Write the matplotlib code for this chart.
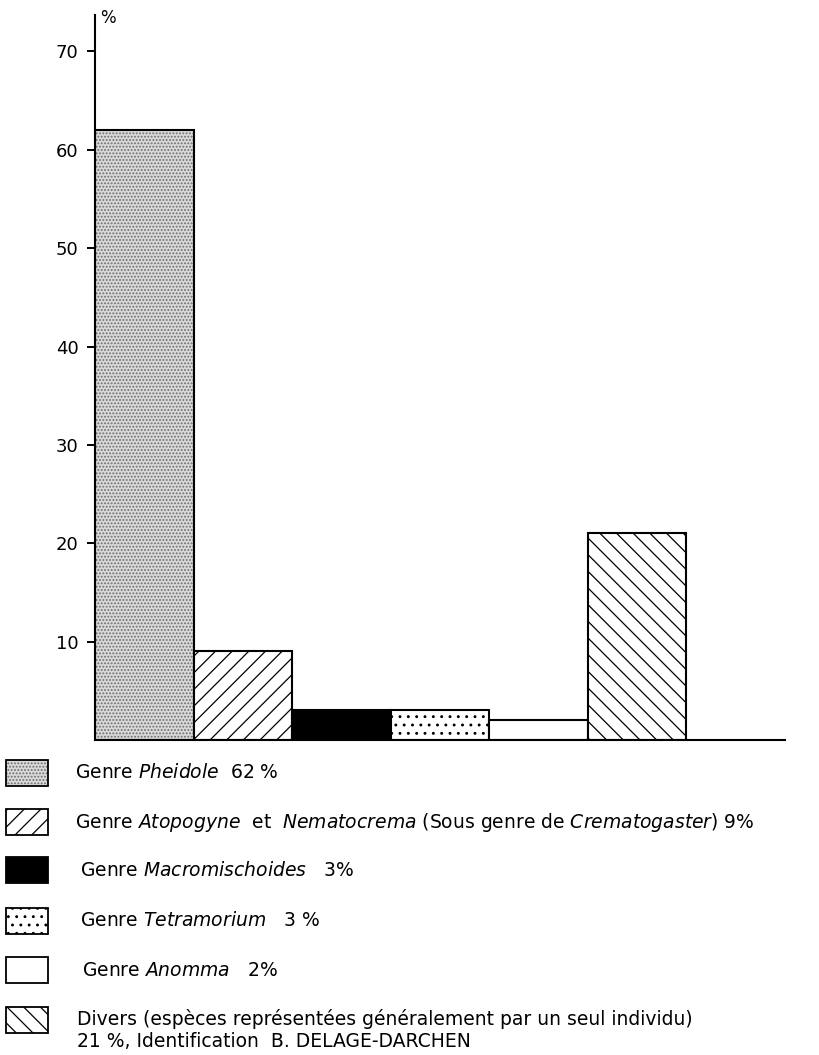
import matplotlib
matplotlib.use("Agg")
import matplotlib.pyplot as plt
from matplotlib.patches import Rectangle

# values (percent of individuals)
genera = ["Pheidole", "Atopogyne/Nematocrema", "Macromischoides", "Tetramorium", "Anomma", "Divers"]
percent = [62, 9, 3, 3, 2, 21]
hatches = [".....", "//", "", "..", "", "\\\\"]
faces = ["#d9d9d9", "white", "black", "white", "white", "white"]
yticks = [10, 20, 30, 40, 50, 60, 70]

legend_labels = [
    r"Genre $\it{Pheidole}$  62 %",
    r"Genre $\it{Atopogyne}$  et  $\it{Nematocrema}$ (Sous genre de $\it{Crematogaster}$) 9%",
    r"Genre $\it{Macromischoides}$   3%",
    r"Genre $\it{Tetramorium}$   3 %",
    r"Genre $\it{Anomma}$   2%",
    "Divers (espèces représentées généralement par un seul individu)\n21 %, Identification  B. DELAGE-DARCHEN",
]

plt.rcParams["hatch.linewidth"] = 0.9
plt.rcParams["font.family"] = "DejaVu Sans"

W, H = 820, 1055
fig = plt.figure(figsize=(W / 100, H / 100), dpi=100)
ax = fig.add_axes([95 / W, 1 - 740 / H, (785 - 95) / W, (740 - 15) / H])

for i, (v, h, fc) in enumerate(zip(percent, hatches, faces)):
    hc = "#6e6e6e" if i == 0 else "black"
    ax.bar(i, v, width=1, align="edge", color=fc, hatch=h, edgecolor=hc, linewidth=0)
    ax.bar(i, v, width=1, align="edge", fill=False, edgecolor="black", linewidth=1.5)

ax.set_xlim(0, 7)
ax.set_ylim(0, 73.7)
ax.spines[["top", "right"]].set_visible(False)
ax.spines[["left", "bottom"]].set_linewidth(1.5)
ax.set_xticks([])
ax.set_yticks(yticks)
ax.tick_params(axis="y", direction="out", length=6, width=1.4, labelsize=13, pad=6)
ax.text(0.007, 1.008, "%", transform=ax.transAxes, fontsize=12, va="top", ha="left")

# legend drawn in pixel coordinates
lg = fig.add_axes([0, 0, 1, 1 - 750 / H])
lg.set_xlim(0, W)
lg.set_ylim(H, 750)
lg.axis("off")
rows_y = [773, 822, 870, 921, 970, 1020]
text_x = [75, 75, 80, 80, 82, 77]
for i, (lab, ry, tx) in enumerate(zip(legend_labels, rows_y, text_x)):
    hc = "#6e6e6e" if i == 0 else "black"
    lg.add_patch(Rectangle((6, ry - 13), 42, 26, facecolor=faces[i], hatch=hatches[i],
                           edgecolor=hc, linewidth=0))
    lg.add_patch(Rectangle((6, ry - 13), 42, 26, fill=False, edgecolor="black", linewidth=1.3))
    if i == 5:
        lg.text(tx, ry + 10, lab, fontsize=13.5, va="center", ha="left", linespacing=1.25)
    else:
        lg.text(tx, ry, lab, fontsize=13.5, va="center", ha="left")

fig.savefig("out.png", dpi=100)
